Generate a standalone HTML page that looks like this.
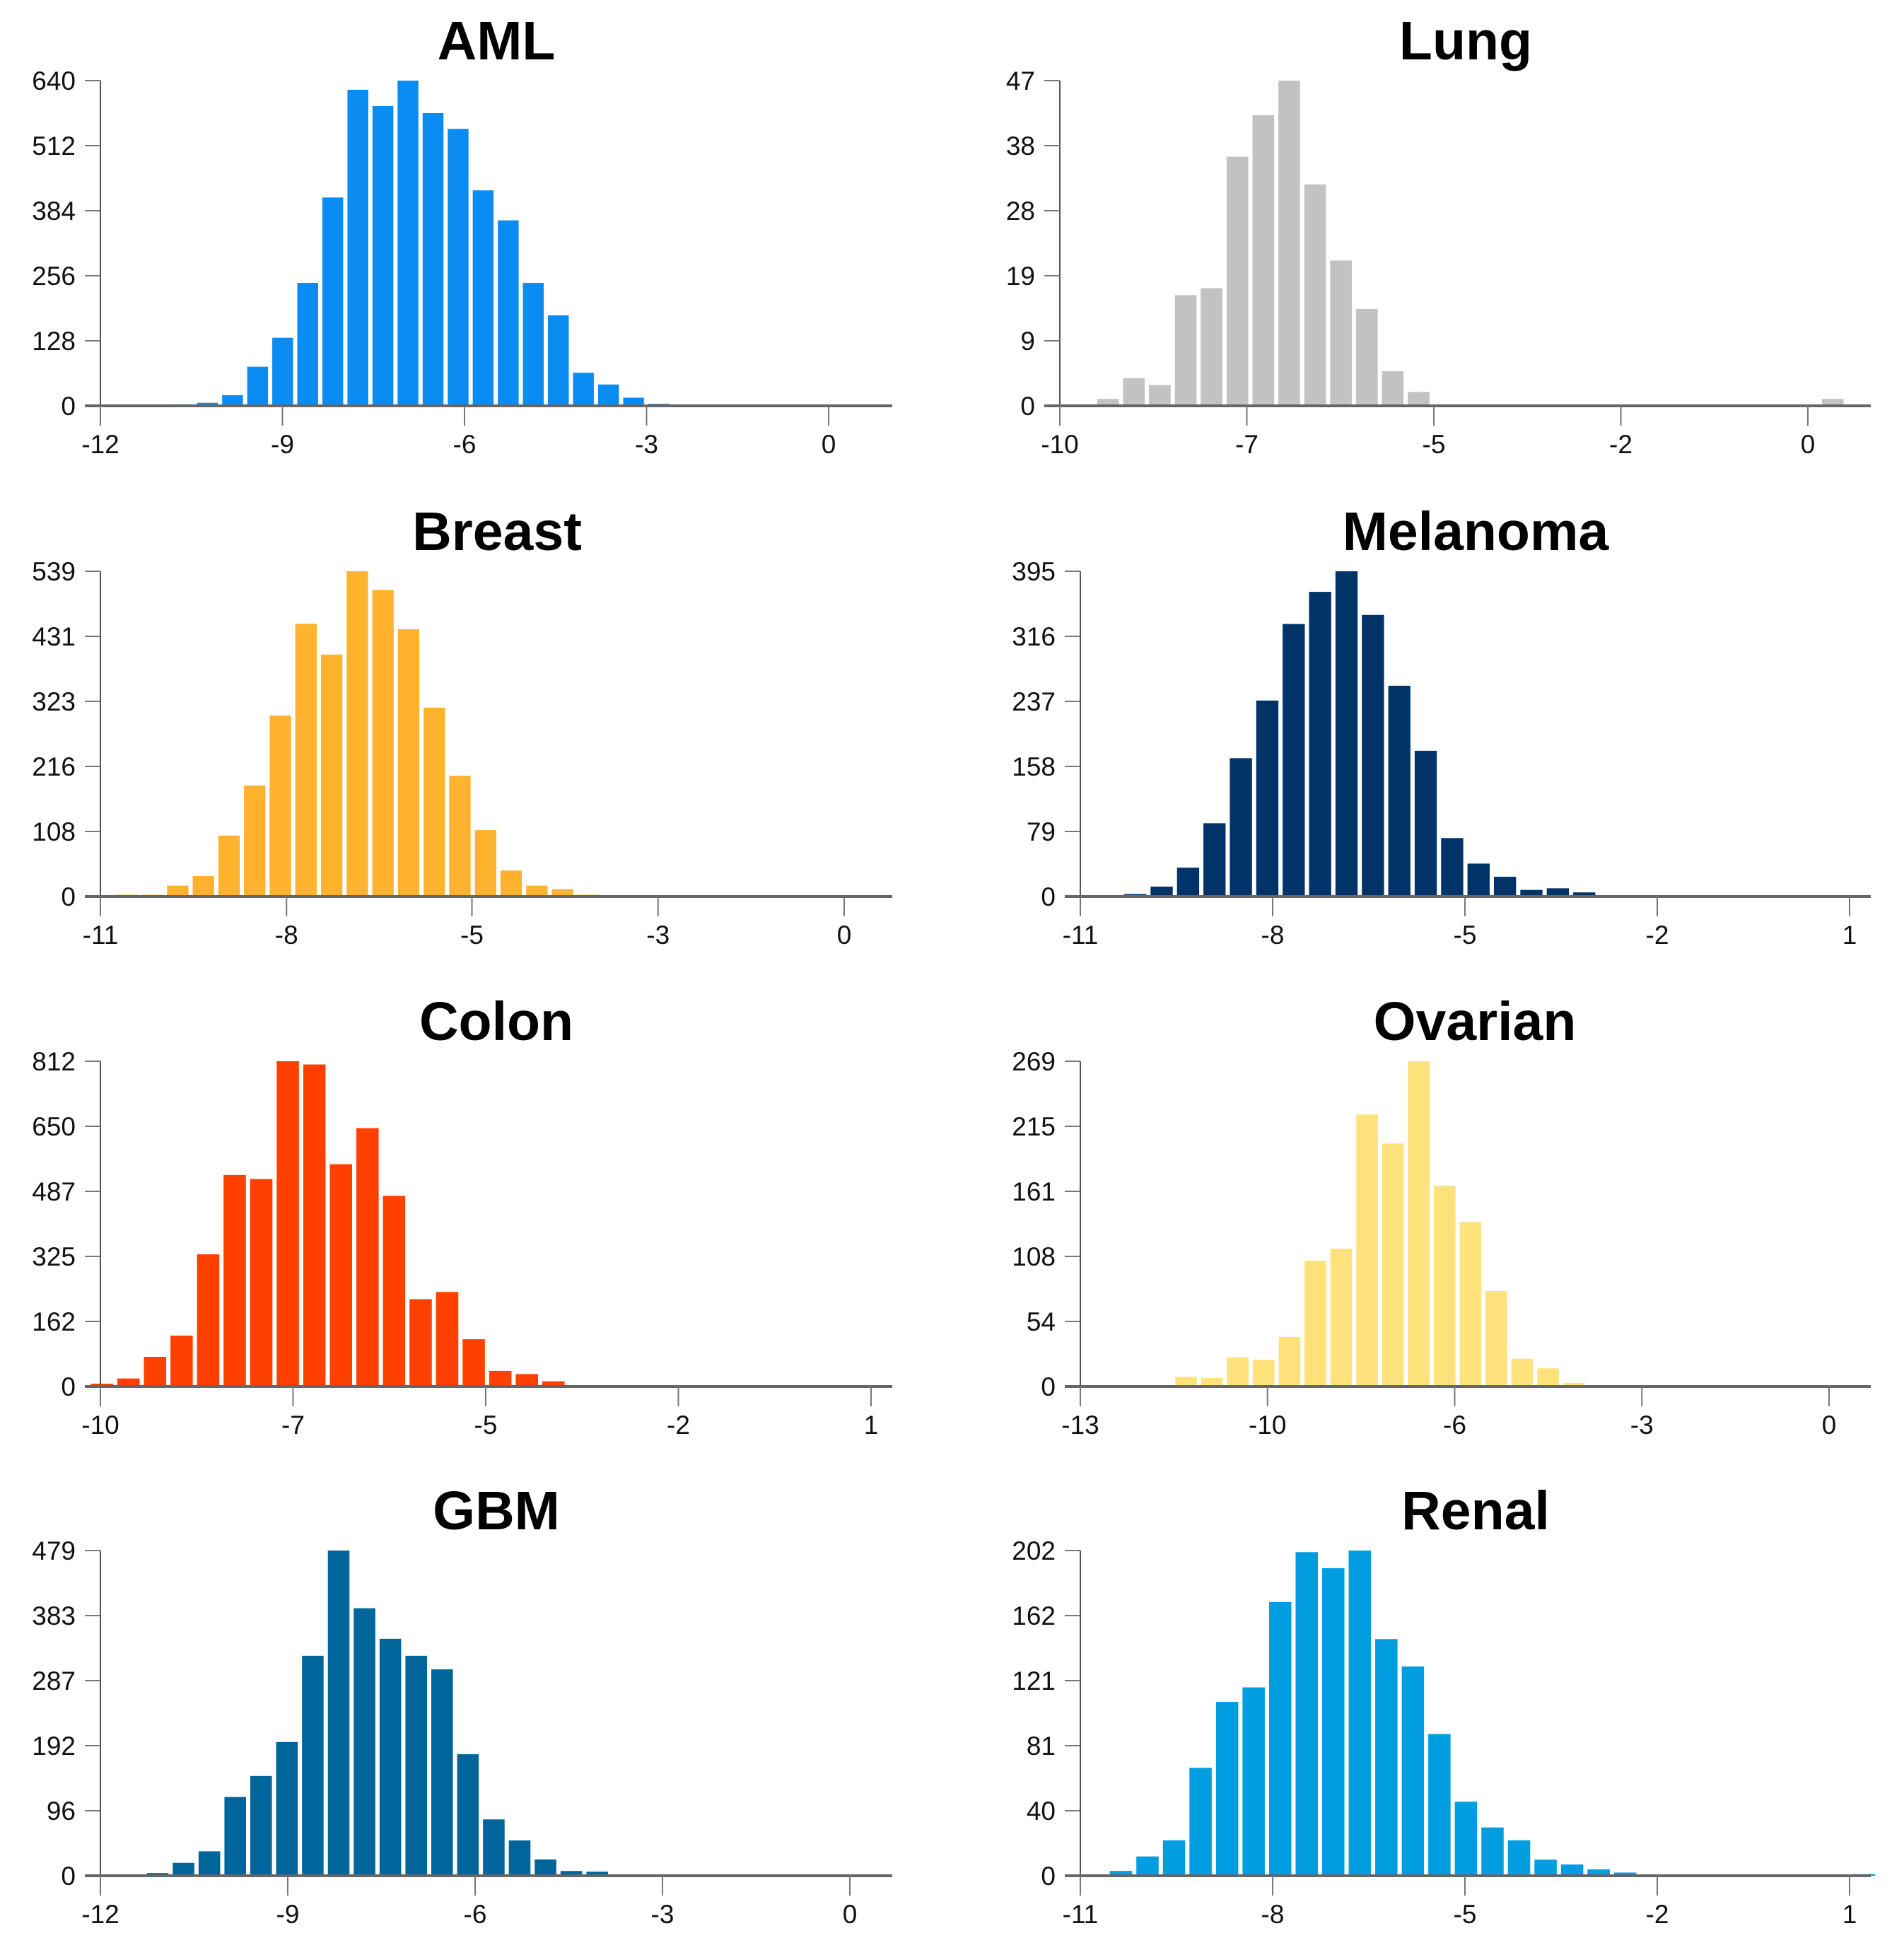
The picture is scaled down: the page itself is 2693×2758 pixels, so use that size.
<!DOCTYPE html>
<html><head><meta charset="utf-8"><style>
html,body{margin:0;padding:0;background:#fff;}
svg{display:block;}
text{font-family:"Liberation Sans",sans-serif;}
</style></head><body>
<svg id="fig" width="2693" height="2758" viewBox="0 0 2693 2758" xmlns="http://www.w3.org/2000/svg"></svg>
<script>
// ---- data ----
const titles = ["AML","Lung","Breast","Melanoma","Colon","Ovarian","GBM","Renal"];
const colors = ["#0a8cf2","#c2c2c2","#ffb22e","#003468","#ff4000","#ffe27c","#00659a","#009ee0"];
const yMax = [640,47,539,395,812,269,479,202];
const yTickLabels = [
 ["0","128","256","384","512","640"],
 ["0","9","19","28","38","47"],
 ["0","108","216","323","431","539"],
 ["0","79","158","237","316","395"],
 ["0","162","325","487","650","812"],
 ["0","54","108","161","215","269"],
 ["0","96","192","287","383","479"],
 ["0","40","81","121","162","202"]];
const xTickVals = [
 [-12,-9,-6,-3,0],
 [-9.9,-7.4,-4.9,-2.4,0.1],
 [-10.7,-8.03,-5.37,-2.7,-0.03],
 [-11,-8,-5,-2,1],
 [-10.2,-7.4,-4.6,-1.8,1.0],
 [-12.9,-9.65,-6.4,-3.15,0.1],
 [-12,-9,-6,-3,0],
 [-11,-8,-5,-2,1]];
const xTickLabels = [
 ["-12","-9","-6","-3","0"],
 ["-10","-7","-5","-2","0"],
 ["-11","-8","-5","-3","0"],
 ["-11","-8","-5","-2","1"],
 ["-10","-7","-5","-2","1"],
 ["-13","-10","-6","-3","0"],
 ["-12","-9","-6","-3","0"],
 ["-11","-8","-5","-2","1"]];
const binStart = [-10.82,-9.40,-10.48,-11.14,-10.34,-12.15,-11.67,-10.54];
const binWidth = [0.413,0.346,0.368,0.412,0.386,0.449,0.414,0.414];
const countsAML = [3,6,21,77,134,242,410,622,590,640,576,545,424,365,242,178,65,42,16,4];
const countsLung = [1,4,3,16,17,36,42,47,32,21,14,5,2,0,0,0,0,0,0,0,0,0,0,0,0,0,0,0,1];
const countsBreast = [3,3,18,34,101,184,300,452,401,539,508,443,313,200,110,43,18,12,3];
const countsMelanoma = [1,1,3,12,35,89,168,238,331,370,395,342,256,177,71,40,24,8,10,5];
const countsColon = [7,20,74,127,330,528,518,812,804,555,645,476,218,236,118,39,31,13];
const countsOvarian = [1,1,8,7,24,22,41,104,114,225,201,269,166,136,79,23,15,3,1];
const countsGBM = [1,4,19,36,116,147,197,324,479,394,349,324,304,179,83,52,24,7,6,1,1];
const countsRenal = [3,12,22,67,108,117,170,201,191,202,147,130,88,46,30,22,10,7,4,2,0,0,0,0,0,0,0,0,1];
const allCounts = [countsAML,countsLung,countsBreast,countsMelanoma,countsColon,countsOvarian,countsGBM,countsRenal];

// ---- layout (pixels) ----
const rowTop = [114,808,1501,2193];
const plotH = 460;
const axisX = [142,1499,142,1528,142,1528,142,1528];
const lastTickX = [1172,2557,1194,2616,1232,2587,1202,2616];
const axisEnd = [1262,2646,1262,2646,1262,2646,1262,2646];
const titleX = [702,2073,703,2087,702,2086,702,2087];

const NS = "http://www.w3.org/2000/svg";
const svg = document.getElementById("fig");
function mk(tag, attrs, parent){
  const e = document.createElementNS(NS, tag);
  for (const k in attrs) e.setAttribute(k, attrs[k]);
  parent.appendChild(e);
  return e;
}

for (let c = 0; c < 8; c++) {
  const row = Math.floor(c/2);
  const top = rowTop[row], zero = top + plotH;
  const g = mk("g", {}, svg);
  
  
  const tv = xTickVals[c];
  const x0 = axisX[c], x1 = lastTickX[c];
  const xs = v => x0 + (v - tv[0]) / (tv[tv.length-1] - tv[0]) * (x1 - x0);
  const ys = v => zero - v / yMax[c] * plotH;

  // title
  const t = mk("text", {x: titleX[c], y: top - 30, "text-anchor": "middle", "font-size": 77, "font-weight": "bold", fill: "#000"}, g);
  t.textContent = titles[c];
  
  

  // bars
  const counts = allCounts[c];
  for (let i = 0; i < counts.length; i++) {
    if (counts[i] <= 0) continue;
    const a = xs(binStart[c] + i*binWidth[c]);
    const b = xs(binStart[c] + (i+1)*binWidth[c]);
    const y = ys(counts[i]);
    const r = mk("rect", {x: a, y: y, width: Math.max(1, b - a - 6), height: zero - y, fill: colors[c]}, g);
    
    
  }

  // y axis
  const ya = mk("line", {x1: x0, y1: top, x2: x0, y2: zero, stroke: "#555", "stroke-width": 2}, g);
  
  
  const yl = yTickLabels[c];
  for (let k = 0; k < yl.length; k++) {
    const yy = zero - k/(yl.length-1)*plotH;
    const tk = mk("line", {x1: x0 - 22, y1: yy, x2: x0, y2: yy, stroke: "#777", "stroke-width": 2}, g);
    
    
    const lb = mk("text", {x: x0 - 35, y: yy + 13, "text-anchor": "end", "font-size": 37, fill: "#111"}, g);
    lb.textContent = yl[k];
    
    
  }

  // x axis
  const xa = mk("line", {x1: x0 - 22, y1: zero, x2: axisEnd[c], y2: zero, stroke: "#666", "stroke-width": 4}, g);
  
  
  const xl = xTickLabels[c];
  for (let k = 0; k < tv.length; k++) {
    const xx = xs(tv[k]);
    const tk = mk("line", {x1: xx, y1: zero, x2: xx, y2: zero + 28, stroke: "#777", "stroke-width": 2}, g);
    
    
    const lb = mk("text", {x: xx, y: zero + 67, "text-anchor": "middle", "font-size": 37, fill: "#111"}, g);
    lb.textContent = xl[k];
    
    
  }
}
</script>
</body></html>
